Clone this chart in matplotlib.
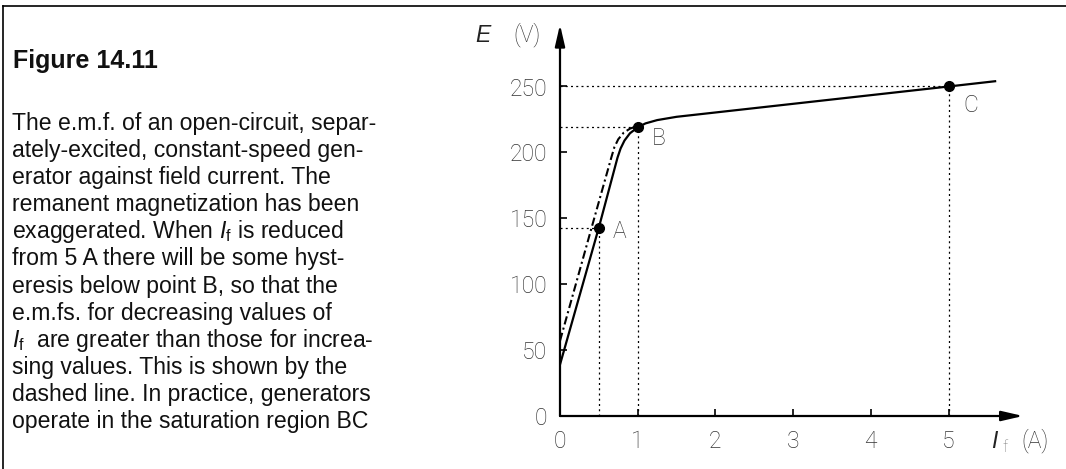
import matplotlib
matplotlib.use("Agg")
import matplotlib.pyplot as plt
from matplotlib.lines import Line2D

# ---------------- data ----------------
solid_x = [0, 0.5, 0.74, 0.78, 0.83, 0.9, 1.0, 1.1, 1.25, 1.5, 5.0, 5.6]
solid_y = [39, 143, 196, 203, 209, 214.5, 219, 222, 224.5, 227, 250, 254]
dash_x = [0, 0.41, 0.66, 0.70, 0.75, 0.82, 0.9, 0.97]
dash_y = [57, 143.6, 196, 204, 210, 215, 218, 219.5]
point_names = ["A", "B", "C"]
point_x = [0.5, 1.0, 5.0]
point_y = [143, 219, 250]
xticks = [0, 1, 2, 3, 4, 5]
yticks = [0, 50, 100, 150, 200, 250]
title = "Figure 14.11"
caption_lines = [
    "The e.m.f. of an open-circuit, separ-",
    "ately-excited, constant-speed gen-",
    "erator against field current. The",
    "remanent magnetization has been",
    r"exaggerated. When $I_\mathrm{f}$ is reduced",
    "from 5 A there will be some hyst-",
    "eresis below point B, so that the",
    "e.m.fs. for decreasing values of",
    r"$I_\mathrm{f}$  are greater than those for increa-",
    "sing values. This is shown by the",
    "dashed line. In practice, generators",
    "operate in the saturation region BC",
]

plt.rcParams["mathtext.fontset"] = "custom"
plt.rcParams["mathtext.it"] = "Liberation Sans:italic"
plt.rcParams["mathtext.rm"] = "Liberation Sans"
plt.rcParams["mathtext.sf"] = "Liberation Sans"

W, H = 1066, 469
fig = plt.figure(figsize=(W / 100, H / 100), dpi=100)


def px(x, y):
    return x / W, 1 - y / H


# figure frame (top and left)
fig.add_artist(Line2D([3 / W, 1], [1 - 6.5 / H] * 2, color="black", lw=1.2,
                      transform=fig.transFigure))
fig.add_artist(Line2D([3 / W] * 2, [0, 1 - 6.5 / H], color="black", lw=1.2,
                      transform=fig.transFigure))

# caption text
tx, ty = px(13, 68)
fig.text(tx, ty, title, family="Liberation Sans", fontweight="bold",
         fontsize=18, va="baseline", ha="left", color="#111")
for i, line in enumerate(caption_lines):
    lx, ly = px(12, 130 + 27.1 * i)
    fig.text(lx, ly, line, family="Liberation Sans", fontsize=16.6,
             va="baseline", ha="left", color="#111")

# axes: origin at pixel (560, 416); 77.7 px per A, 1.318 px per V
x0, y0 = 560, 416
xmax, ymax = 6.0, 297
ax = fig.add_axes([x0 / W, (H - y0) / H, xmax * 77.7 / W, ymax * 1.318 / H])
ax.set_xlim(0, xmax)
ax.set_ylim(0, ymax)
ax.patch.set_alpha(0)
for s in ax.spines.values():
    s.set_visible(False)

tickfont = dict(family="Roboto", weight="light", size=16.5)
ax.set_xticks(xticks)
ax.set_yticks(yticks)
ax.set_xticklabels([str(t) for t in xticks], fontdict=tickfont, color="#333")
ax.set_yticklabels([str(t) for t in yticks], fontdict=tickfont, color="#333")
ax.tick_params(axis="both", direction="in", length=5, width=1.2, color="black")
ax.tick_params(axis="y", pad=9)
ax.tick_params(axis="x", pad=10)

# axis arrows
arrow = dict(arrowstyle="-|>,head_length=1.3,head_width=0.3", color="black",
             lw=1.6, mutation_scale=10, shrinkA=0, shrinkB=0)
ax.annotate("", xy=(0, ymax), xytext=(0, 0), arrowprops=arrow,
            annotation_clip=False)
ax.annotate("", xy=(xmax - 0.04, 0), xytext=(0, 0), arrowprops=arrow,
            annotation_clip=False)

# dotted guide lines
dot = dict(color="black", lw=0.9, linestyle=(0, (1.6, 2.6)))
for xv, yv in zip(point_x, point_y):
    ax.plot([0, xv], [yv, yv], **dot)
    ax.plot([xv, xv], [0, yv], **dot)

# curves
ax.plot(dash_x, dash_y, color="black", lw=1.5, linestyle=(0, (4, 1.6, 1, 1.6)))
ax.plot(solid_x, solid_y, color="black", lw=1.6, solid_joinstyle="round")
ax.plot(point_x, point_y, "o", color="black", markersize=7)

offsets = [(15, -3), (15, -8), (16, -14)]
for name, xv, yv, off in zip(point_names, point_x, point_y, offsets):
    ax.annotate(name, xy=(xv, yv), xytext=off, textcoords="offset points",
                ha="center", va="center", family="Roboto", weight="light",
                fontsize=16.5, color="#333")

# axis labels
lx, ly = px(483, 35)
fig.text(lx, ly, "E", family="Liberation Sans", style="italic", fontsize=16.5,
         ha="center", va="center", color="#222")
lx, ly = px(527, 35)
fig.text(lx, ly, "(V)", family="Roboto", weight="light", fontsize=16.5,
         ha="center", va="center", color="#333")
lx, ly = px(994, 441)
fig.text(lx, ly, "I", family="Liberation Sans", style="italic", fontsize=16.5,
         ha="center", va="center", color="#222")
lx, ly = px(1005, 447)
fig.text(lx, ly, "f", family="Roboto", weight="light", fontsize=11.5,
         ha="center", va="center", color="#777")
lx, ly = px(1035, 441)
fig.text(lx, ly, "(A)", family="Roboto", weight="light", fontsize=16.5,
         ha="center", va="center", color="#333")

fig.savefig("out.png", dpi=100)
